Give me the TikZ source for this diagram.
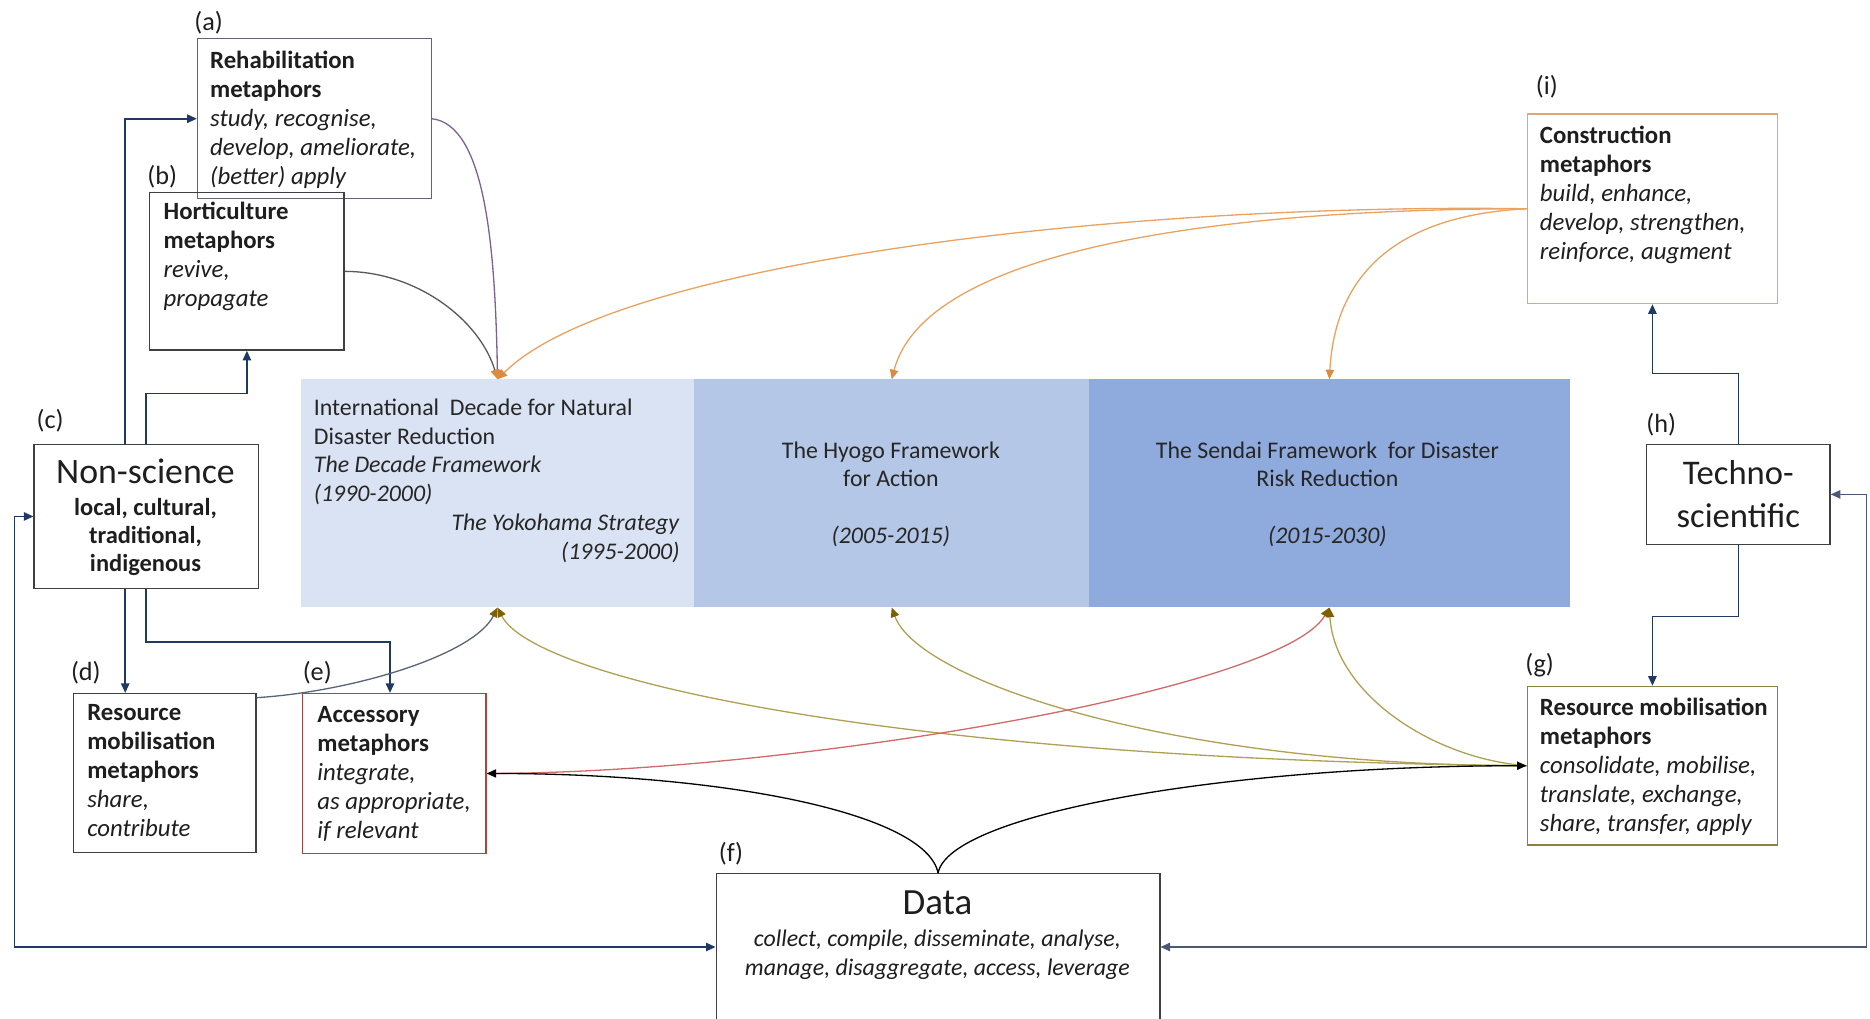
\documentclass[tikz,border=0pt]{standalone}
\usepackage{fontspec}
\setmainfont{Carlito}
\usetikzlibrary{arrows.meta}
\definecolor{navy}{HTML}{203864}
\definecolor{loopgrey}{HTML}{4A5A75}
\definecolor{orng}{HTML}{E9A25F}
\definecolor{orngtip}{HTML}{DC8A40}
\definecolor{olive}{HTML}{B0A055}
\definecolor{olivetip}{HTML}{7F6000}
\definecolor{redc}{HTML}{D06A6A}
\definecolor{purp}{HTML}{7A6294}
\definecolor{greyc}{HTML}{595959}
\definecolor{dgrey}{HTML}{5A6478}
\definecolor{boxgrey}{HTML}{404040}
\definecolor{boxpurp}{HTML}{6E5C78}
\definecolor{boxred}{HTML}{A94442}
\definecolor{boxolive}{HTML}{8C8040}
\definecolor{boxorng}{HTML}{E0A870}
\definecolor{bandA}{HTML}{DAE3F3}
\definecolor{bandB}{HTML}{B4C7E7}
\definecolor{bandC}{HTML}{8FAADC}
\definecolor{txtc}{HTML}{1E1E1E}
\begin{document}
\begin{tikzpicture}[x=1pt,y=-1pt,
  fs/.style={font=\fontsize{20}{24.25}\selectfont},
  fsb/.style={font=\fontsize{20.8}{24.25}\selectfont},
  box/.style={draw=boxgrey, line width=1.1pt, inner sep=0, anchor=north west},
  txt/.style={fsb, inner sep=0, anchor=north west, align=left, text=txtc},
  lbl/.style={font=\fontsize{22}{26}\selectfont, inner sep=0, anchor=center, text=txtc},
  band/.style={inner sep=0, anchor=north west, minimum height=191pt},
  bandtxt/.style={fs, inner sep=0, text=black!85},
  navyarr/.style={draw=navy, line width=1.3pt, -{Triangle[length=8pt,width=7pt]}},
  looparr/.style={line width=1.3pt, {Triangle[length=8pt,width=7pt]}-{Triangle[length=8pt,width=7pt]}},
  curv/.style={line width=1.1pt}
]
\useasboundingbox (0,0) rectangle (1568,854);

% central band
\node[band, fill=bandA, minimum width=330pt] (p1) at (252,318) {};
\node[band, fill=bandB, minimum width=331pt] (p2) at (582,318) {};
\node[band, fill=bandC, minimum width=403pt] (p3) at (913,318) {};

\node[bandtxt, anchor=north west, align=left] (p1t) at (263,334)
  {International~ Decade for Natural\\Disaster Reduction\\\textit{The Decade Framework}\\\textit{(1990-2000)}};
\node[bandtxt, anchor=north east, align=right] (p1y) at (570,431)
  {\textit{The Yokohama Strategy}\\\textit{(1995-2000)}};
\node[bandtxt, anchor=north, align=center] (p2t) at (747,370)
  {The Hyogo Framework\\for Action};
\node[bandtxt, anchor=center] (p2y) at (747,450) {\textit{(2005-2015)}};
\node[bandtxt, anchor=north, align=center] (p3t) at (1113,370)
  {The Sendai Framework~ for Disaster\\Risk Reduction};
\node[bandtxt, anchor=center] (p3y) at (1113,450) {\textit{(2015-2030)}};

% boxes
\node[box, draw=boxpurp, minimum width=196pt, minimum height=134pt] (a) at (165,32) {};
\node[box, minimum width=163pt, minimum height=132pt] (b) at (125,161) {};
\node[box, minimum width=188pt, minimum height=121pt] (c) at (28,372) {};
\node[box, minimum width=153pt, minimum height=133pt] (d) at (61,581) {};
\node[box, draw=boxred, minimum width=154pt, minimum height=134pt] (e) at (253,581) {};
\node[box, minimum width=372pt, minimum height=123pt] (f) at (600,732) {};
\node[box, draw=boxolive, fill=white, minimum width=210pt, minimum height=133pt] (g) at (1280,575) {};
\node[box, minimum width=154pt, minimum height=84pt, align=center,
  font=\fontsize{29}{36}\selectfont, text=txtc] (h) at (1380,372) {Techno-\\scientific};
\node[box, draw=boxorng, minimum width=210pt, minimum height=159pt] (i) at (1280,95) {};

% box texts
\node[txt] (at) at (176,42.5) {\textbf{Rehabilitation}\\\textbf{metaphors}\\\textit{study, recognise,}\\\textit{develop, ameliorate,}\\\textit{(better) apply}};
\node[txt] (bt) at (137,169.5) {\textbf{Horticulture}\\\textbf{metaphors}\\\textit{revive,}\\\textit{propagate}};
\node[inner sep=0, anchor=center, font=\fontsize{30}{34}\selectfont, text=txtc] (ct) at (122,395) {Non-science};
\node[inner sep=0, anchor=north, align=center, text=txtc, font=\fontsize{20.5}{23.5}\selectfont] (cb) at (122,418)
  {\textbf{local, cultural,}\\\textbf{traditional,}\\\textbf{indigenous}};
\node[txt] (dt) at (73,590.5) {\textbf{Resource}\\\textbf{mobilisation}\\\textbf{metaphors}\\\textit{share,}\\\textit{contribute}};
\node[txt] (et) at (266,592.5) {\textbf{Accessory}\\\textbf{metaphors}\\\textit{integrate,}\\\textit{as appropriate,}\\\textit{if relevant}};
\node[inner sep=0, anchor=center, font=\fontsize{31}{34}\selectfont, text=txtc] (ft) at (786,757) {Data};
\node[fs, inner sep=0, anchor=north, align=center, text=txtc] (fb) at (786,779.5)
  {\textit{collect, compile, disseminate, analyse,}\\\textit{manage, disaggregate, access, leverage}};
\node[txt] (gt) at (1291,585.5) {\textbf{Resource mobilisation}\\\textbf{metaphors}\\\textit{consolidate, mobilise,}\\\textit{translate, exchange,}\\\textit{share, transfer, apply}};
\node[txt] (it) at (1291,105.5) {\textbf{Construction}\\\textbf{metaphors}\\\textit{build, enhance,}\\\textit{develop, strengthen,}\\\textit{reinforce, augment}};

% labels
\node[lbl] (la) at (175,19) {(a)};
\node[lbl] (lb) at (136,148) {(b)};
\node[lbl] (lc) at (42,353) {(c)};
\node[lbl] (ld) at (72,564) {(d)};
\node[lbl] (le) at (266,564) {(e)};
\node[lbl] (lf) at (613,716) {(f)};
\node[lbl] (lg) at (1291,558) {(g)};
\node[lbl] (lh) at (1393,356) {(h)};
\node[lbl] (li) at (1297,73) {(i)};

% navy orthogonal connectors
\draw[navyarr] ([xshift=77pt]c.north west) |- (a.west);
\draw[navyarr] (c.north) -- ++(0,-42) -| (b.south);
\draw[navyarr] ([xshift=77pt]c.south west) -- ([xshift=44pt]d.north west);
\draw[navyarr] (c.south) -- ++(0,44) -| ([xshift=74pt]e.north west);
\draw[navyarr] (h.north) -- ++(0,-59) -| (i.south);
\draw[navyarr] (h.south) -- ++(0,60) -| (g.north);
\draw[looparr, draw=navy] (c.west) -- ++(-16,0) |- (f.west);
\draw[looparr, draw=loopgrey] (h.east) -- ++(30,0) |- (f.east);

% curves into the band (top)
\draw[curv, draw=purp, -{Triangle[length=8pt,width=7pt,color=orngtip]}] (a.east) .. controls +(45,5) and +(-2,-110) .. (p1.north);
\draw[curv, draw=greyc, -{Triangle[length=8pt,width=7pt,color=orngtip]}] (b.east) .. controls +(60,0) and +(-15,-50) .. (p1.north);
\draw[curv, draw=orng, -{Triangle[length=8pt,width=7pt,color=orngtip]}] (i.west) .. controls +(-330,-5) and +(100,-100) .. (p1.north);
\draw[curv, draw=orng, -{Triangle[length=8pt,width=7pt,color=orngtip]}] (i.west) .. controls +(-230,0) and +(30,-115) .. (p2.north);
\draw[curv, draw=orng, -{Triangle[length=8pt,width=7pt,color=orngtip]}] (i.west) .. controls +(-100,5) and +(5,-95) .. (p3.north);

% curves into the band (bottom)
\draw[curv, draw=dgrey, -{Triangle[length=8pt,width=7pt,color=olivetip]}] ([yshift=-4pt]d.north east) .. controls +(80,-5) and +(-20,40) .. (p1.south);
\draw[curv, draw=olive, -{Triangle[length=8pt,width=7pt,color=olivetip]}] (g.west) .. controls +(-530,-5) and +(30,60) .. (p1.south);
\draw[curv, draw=olive, -{Triangle[length=8pt,width=7pt,color=olivetip]}] (g.west) .. controls +(-300,0) and +(22,61) .. (p2.south);
\draw[curv, draw=olive, -{Triangle[length=8pt,width=7pt,color=olivetip]}] (g.west) .. controls +(-80,-6) and +(4,71) .. (p3.south);
\draw[curv, draw=redc, -{Triangle[length=8pt,width=7pt,color=olivetip]}] (e.east) .. controls +(250,0) and +(-40,70) .. (p3.south);

% data curves
\draw[curv, draw=black, -{Triangle[length=8pt,width=7pt]}] (f.north) .. controls +(-10,-50) and +(200,0) .. (e.east);
\draw[curv, draw=black, -{Triangle[length=8pt,width=7pt]}] (f.north) .. controls +(10,-50) and +(-250,0) .. (g.west);
\end{tikzpicture}
\end{document}
